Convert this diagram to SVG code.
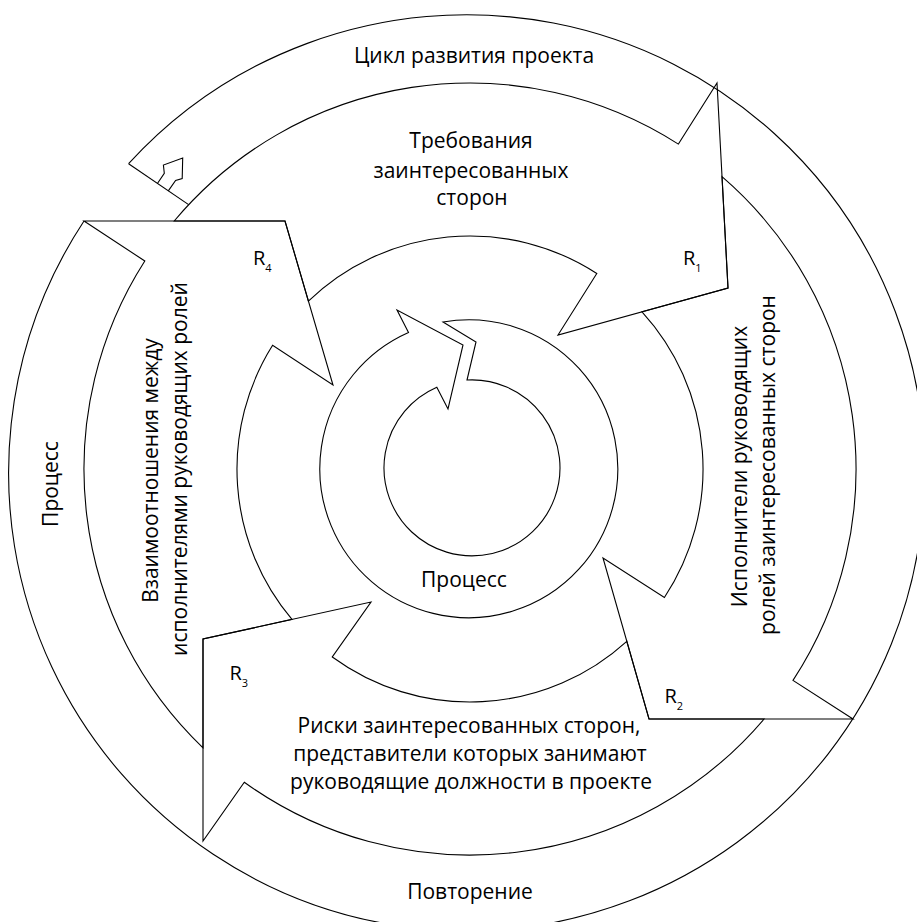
<svg xmlns="http://www.w3.org/2000/svg" width="917" height="922" viewBox="0 0 917 922">
<style>
.ln{fill:none;stroke:#000;stroke-width:1.1;stroke-linejoin:miter}
.t{font-family:"Open Sans","Noto Sans","DejaVu Sans",sans-serif;font-size:21px;fill:#000;text-anchor:middle}
.r{font-family:"Open Sans","Noto Sans","DejaVu Sans",sans-serif;font-size:20px;fill:#000}
.s{font-size:11px}
</style>
<rect width="917" height="922" fill="#fff"/>
<g id="cycle-outer">
<path class="ln" d="M128.6 163.7 A458 458 0 1 1 84 221"/>
<path class="ln" d="M128.6 163.7 L188.6 204.6"/>
<polyline class="ln" points="157.4,183.5 164.3,173.3 163.4,165.1 182.7,158 182.2,178.6 175.6,180.4 168.3,190.9"/>
<text class="t" x="474" y="63">Цикл развития проекта</text>
<text class="t" transform="translate(58,484) rotate(-90)">Процесс</text>
<text class="t" x="470" y="899">Повторение</text>
</g>
<g id="r1">
<path class="ln" d="M285 221 L174.2 221 A386 386 0 0 1 678.4 144.1 L717 83 L728 288 L558 335 L596.8 273.5 A233 233 0 0 0 308.4 301.1 Z"/>
<text class="t" x="471" y="148">Требования</text>
<text class="t" x="471" y="177.5">заинтересованных</text>
<text class="t" x="472" y="205">сторон</text>
<text class="r" x="683" y="265">R<tspan class="s" dy="7">1</tspan></text>
</g>
<g id="r2">
<path class="ln" d="M728 288 L722 176.6 A386 386 0 0 1 793 680.4 L853 719 L649 719 L603 558 L664.4 597.5 A233 233 0 0 0 642 311.8 Z"/>
<text class="t" transform="translate(746.5,466.5) rotate(-90)">Исполнители руководящих</text>
<text class="t" transform="translate(775,465) rotate(-90)">ролей заинтересованных сторон</text>
<text class="r" x="664.5" y="703">R<tspan class="s" dy="7">2</tspan></text>
</g>
<g id="r3">
<path class="ln" d="M649 719 L764.1 719 A386 386 0 0 1 244.3 782.2 L203 841 L203 639 L371 602 L332.3 657 A233 233 0 0 0 626.8 641.3 Z"/>
<text class="t" x="469" y="732.5">Риски заинтересованных сторон,</text>
<text class="t" x="470" y="760.5">представители которых занимают</text>
<text class="t" x="471" y="789">руководящие должности в проекте</text>
<text class="r" x="229.5" y="680">R<tspan class="s" dy="7">3</tspan></text>
</g>
<g id="r4">
<path class="ln" d="M203 639 L203 747.8 A386 386 0 0 1 144.8 261 L84 221 L285 221 L333 385 L272.6 345.2 A233 233 0 0 0 292 619.4 Z"/>
<text class="t" transform="translate(157.5,470.5) rotate(-90)">Взаимоотношения между</text>
<text class="t" transform="translate(187,469) rotate(-90)">исполнителями руководящих ролей</text>
<text class="r" x="253" y="265">R<tspan class="s" dy="7">4</tspan></text>
</g>
<g id="process-inner">
<path class="ln" d="M443 322 L476 342 L467 380 A88 88 0 1 1 436.8 387.2 L448 409 L463 345 L397 310 L408.5 332.5 A149 149 0 1 0 443 322 Z"/>
<text class="t" x="464" y="587">Процесс</text>
</g>
<g id="connectors"/>
</svg>
